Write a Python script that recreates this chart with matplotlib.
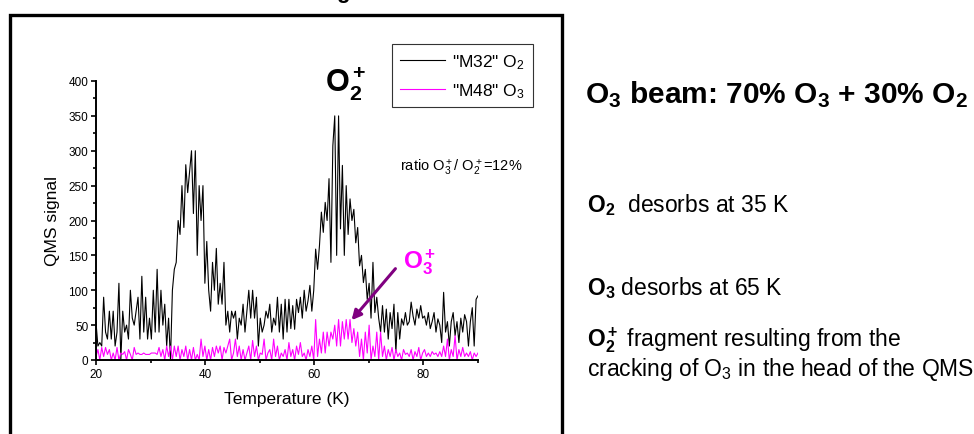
import numpy as np
import matplotlib
matplotlib.use("Agg")
import matplotlib.pyplot as plt
from matplotlib.patches import Rectangle
from matplotlib.ticker import MultipleLocator

plt.rcParams["font.family"] = "Liberation Sans"
plt.rcParams["mathtext.fontset"] = "custom"
plt.rcParams["mathtext.rm"] = "Liberation Sans"
plt.rcParams["mathtext.bf"] = "Liberation Sans:bold"
plt.rcParams["mathtext.it"] = "Liberation Sans:italic"

m32_o2 = [
    54, 20, 25, 20, 90, 40, 30, 70, 30, 70,
    20, 40, 110, 0, 70, 40, 50, 30, 100, 60,
    50, 70, 90, 30, 120, 40, 90, 30, 60, 30,
    100, 40, 130, 40, 100, 50, 80, 20, 60, 0,
    100, 130, 140, 200, 180, 250, 190, 280, 240, 270,
    300, 210, 300, 150, 250, 200, 250, 110, 170, 100,
    70, 140, 100, 160, 80, 110, 80, 140, 50, 70,
    40, 70, 60, 70, 30, 60, 50, 80, 40, 70,
    100, 60, 100, 60, 90, 20, 60, 40, 50, 70,
    60, 80, 40, 60, 50, 90, 40, 80, 30, 87,
    40, 87, 45, 78, 44, 87, 68, 90, 60, 100,
    70, 85, 107, 70, 100, 159, 130, 164, 212, 183,
    226, 200, 260, 140, 307, 350, 150, 350, 188, 279,
    150, 250, 180, 231, 200, 216, 168, 190, 135, 150,
    111, 130, 87, 110, 60, 140, 68, 90, 60, 40,
    78, 40, 73, 30, 68, 45, 80, 11, 68, 30,
    59, 50, 68, 50, 55, 83, 63, 50, 73, 60,
    78, 60, 63, 50, 68, 45, 55, 68, 40, 59,
    50, 25, 97, 40, 55, 20, 55, 68, 35, 55,
    25, 60, 40, 65, 55, 20, 55, 75, 20, 87,
    92,
]
m48_o3 = [
    5, 15, 0, 18, 5, 18, 8, 15, 0, 10,
    0, 18, 0, 10, 8, 12, 0, 15, 8, 0,
    18, 8, 10, 8, 8, 10, 8, 8, 8, 10,
    10, 10, 8, 18, 5, 15, 0, 20, 5, 20,
    0, 20, 5, 20, 0, 15, 5, 20, 0, 15,
    0, 18, 0, 8, 0, 30, 5, 20, 0, 15,
    0, 18, 5, 20, 10, 20, 0, 18, 10, 20,
    30, 0, 10, 30, 5, 20, 0, 15, 0, 10,
    20, 0, 28, 5, 20, 0, 10, 8, 30, 0,
    10, 15, 0, 30, 5, 20, 0, 10, 5, 15,
    0, 25, 5, 15, 0, 20, 8, 25, 5, 10,
    0, 15, 5, 20, 0, 58, 5, 30, 10, 40,
    10, 40, 20, 40, 30, 50, 20, 58, 20, 55,
    30, 58, 30, 58, 25, 45, 20, 40, 5, 30,
    0, 40, 10, 50, 0, 20, 5, 40, 0, 40,
    5, 20, 0, 15, 5, 18, 0, 15, 5, 10,
    0, 15, 8, 10, 5, 15, 0, 12, 5, 18,
    0, 10, 15, 5, 10, 5, 12, 8, 10, 5,
    12, 5, 20, 5, 30, 0, 15, 5, 35, 0,
    15, 5, 18, 5, 10, 5, 12, 0, 10, 5,
    10,
]
temperature = np.linspace(20, 90, len(m32_o2))

W, H = 974, 435
fig = plt.figure(figsize=(W / 100, H / 100), dpi=100)
ax = fig.add_axes([96 / W, 74 / H, 382 / W, 279 / H])

ax.plot(temperature, m32_o2, color="black", lw=0.8, label='"M32" O$_2$')
ax.plot(temperature, m48_o3, color="#ff00ff", lw=0.8, label='"M48" O$_3$')

ax.set_xlim(20, 90)
ax.set_ylim(0, 400)
ax.xaxis.set_major_locator(MultipleLocator(20))
ax.xaxis.set_minor_locator(MultipleLocator(10))
ax.yaxis.set_major_locator(MultipleLocator(50))
ax.yaxis.set_minor_locator(MultipleLocator(25))
for s in ["top", "right"]:
    ax.spines[s].set_visible(False)
for s in ["left", "bottom"]:
    ax.spines[s].set_linewidth(1.4)
ax.tick_params(which="major", direction="out", length=3.5, width=1.2, labelsize=8.5, pad=2)
ax.tick_params(which="minor", direction="out", length=2.2, width=1.2)
ax.set_xlabel("Temperature (K)", fontsize=12.5, labelpad=8)
ax.set_ylabel("QMS signal", fontsize=12.5, labelpad=6)

ax.legend(loc="upper left", bbox_to_anchor=(392 / W, 1 - 45 / H), bbox_transform=fig.transFigure,
          fontsize=12.5, frameon=True, fancybox=False, edgecolor="#333333", framealpha=1,
          handlelength=2.6, handletextpad=0.4, labelspacing=0.6, borderpad=0.45, borderaxespad=0)
ax.get_legend().get_frame().set_linewidth(0.8)

ax.text(62, 386, r"$\mathbf{O_2^+}$", fontsize=22, va="baseline")
ax.text(75.7, 272, r"ratio O$_3^+$/ O$_2^+$=12%", fontsize=10.5, va="baseline")
ax.text(76.3, 133, r"$\mathbf{O_3^+}$", fontsize=17.5, color="#ff00ff", va="baseline")
ax.annotate("", xy=(66.5, 54), xytext=(75.2, 134),
            arrowprops=dict(arrowstyle="-|>", color="#800080", lw=2.2, mutation_scale=14))

# frame around the chart panel
fig.add_artist(Rectangle((10 / W, -0.05), 552 / W, 1.05 - 15.5 / H, transform=fig.transFigure,
                         fill=False, edgecolor="black", lw=2.4))
fig.text(343 / W, 1.004, "g", fontsize=16, fontweight="bold", ha="center", va="baseline")

fig.text(585 / W, 1 - 103 / H, r"$\mathbf{O_3}$ beam: 70% $\mathbf{O_3}$ + 30% $\mathbf{O_2}$",
         fontsize=21.5, fontweight="bold", va="baseline")
fig.text(587 / W, 1 - 212 / H, r"$\mathbf{O_2}$  desorbs at 35 K", fontsize=16.5, va="baseline")
fig.text(587 / W, 1 - 295 / H, r"$\mathbf{O_3}$ desorbs at 65 K", fontsize=16.5, va="baseline")
fig.text(587 / W, 1 - 346 / H, r"$\mathbf{O_2^+}$ fragment resulting from the", fontsize=16.5, va="baseline")
fig.text(587 / W, 1 - 376 / H, r"cracking of O$_3$ in the head of the QMS", fontsize=16.5, va="baseline")

fig.savefig("out.png", dpi=100)
